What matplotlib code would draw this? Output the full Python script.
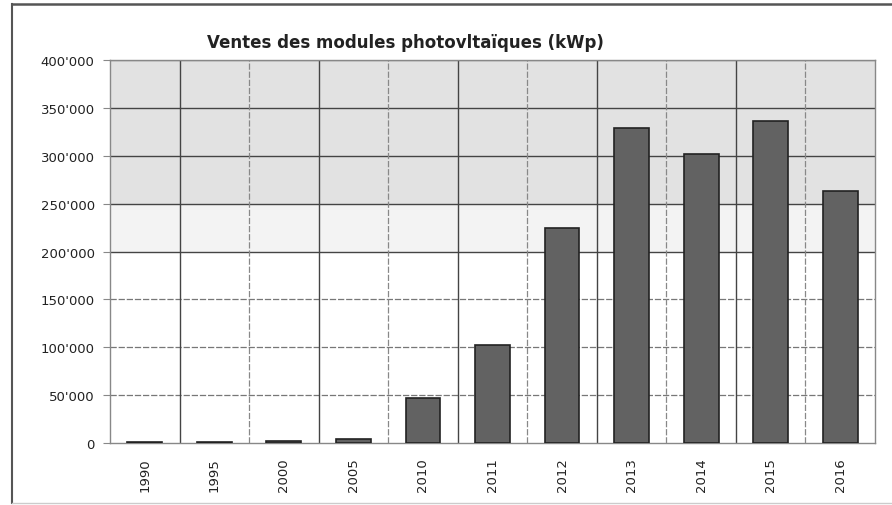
import matplotlib
matplotlib.use("Agg")
import matplotlib.pyplot as plt
from matplotlib.lines import Line2D
from matplotlib.ticker import FuncFormatter

years = ["1990", "1995", "2000", "2005", "2010", "2011", "2012", "2013", "2014", "2015", "2016"]
sales_kwp = [1000, 1500, 2500, 4500, 47000, 102000, 225000, 329000, 302000, 336000, 263000]
y_ticks = [0, 50000, 100000, 150000, 200000, 250000, 300000, 350000, 400000]
title = "Ventes des modules photovltaïques (kWp)"

plt.rcParams['font.family'] = ['DejaVu Sans']

fig = plt.figure(figsize=(8.92, 5.06), dpi=100)
ax = fig.add_axes([110/892, 1 - 444/506, 765/892, 383/506])

x = list(range(len(years)))
ax.set_xlim(-0.5, len(years) - 0.5)
ax.set_ylim(0, 400000)

# background shading (upper region textured gray)
ax.axhspan(250000, 400000, color='#e2e2e2', zorder=0, lw=0)
ax.axhspan(200000, 250000, color='#f3f3f3', zorder=0, lw=0)

# horizontal gridlines
for v in y_ticks[1:-1]:
    if v >= 200000:
        ax.axhline(v, color='#444444', lw=1.0, zorder=1)
    else:
        ax.axhline(v, color='#777777', lw=0.9, ls=(0, (5, 1.5)), zorder=1)
ax.axhline(400000, color='#888888', lw=1.0, zorder=1)

# vertical gridlines
for i in range(len(years) - 1):
    b = i + 0.5
    if i % 2 == 0:
        ax.axvline(b, color='#444444', lw=1.0, zorder=1)
    else:
        ax.axvline(b, color='#888888', lw=0.9, ls=(0, (5, 1.5)), zorder=1)

ax.bar(x, sales_kwp, width=0.5, color='#626262', edgecolor='#222222', lw=1.2, zorder=3)

for s in ['left', 'right', 'bottom', 'top']:
    ax.spines[s].set_color('#888888')
    ax.spines[s].set_linewidth(1.0)

ax.set_yticks(y_ticks)
ax.yaxis.set_major_formatter(FuncFormatter(lambda v, p: f"{int(v):,}".replace(",", "'")))
ax.set_xticks(x)
ax.set_xticklabels(years, rotation=90)
ax.tick_params(axis='y', length=5, color='#888888', labelsize=9.5, labelcolor='#222222', pad=6)
ax.tick_params(axis='x', length=0, labelsize=9.5, labelcolor='#222222', pad=10)

fig.text(405/892, 1 - 43/506, title, ha='center', va='center', fontsize=12,
         fontweight='bold', color='#222222')

# outer frame: top and left dark, bottom faint
fy_top = 1 - 5/506
fy_bot = 1 - 504/506
fx_left = 12/892
fig.add_artist(Line2D([fx_left, 1.0], [fy_top, fy_top], transform=fig.transFigure,
                      color='#555555', lw=1.8))
fig.add_artist(Line2D([fx_left, fx_left], [fy_bot, fy_top], transform=fig.transFigure,
                      color='#555555', lw=1.5))
fig.add_artist(Line2D([fx_left, 1.0], [fy_bot, fy_bot], transform=fig.transFigure,
                      color='#cccccc', lw=1.0))

fig.savefig("out.png", dpi=100)
